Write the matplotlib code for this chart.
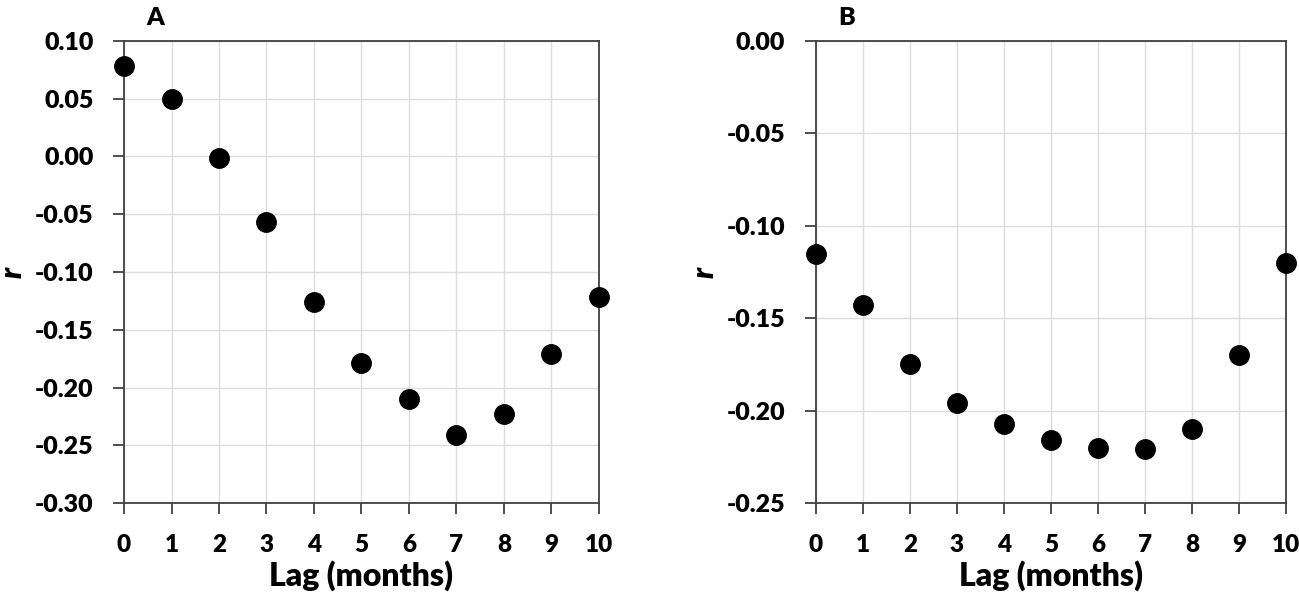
#!/usr/bin/env python3

import matplotlib
matplotlib.use('Agg')
import matplotlib.pyplot as plt
import numpy as np

lag = np.arange(11)

r_a = [0.078, 0.050, -0.001, -0.057, -0.126, -0.179, -0.210, -0.241, -0.223, -0.171, -0.122]
r_b = [-0.115, -0.143, -0.175, -0.196, -0.207, -0.216, -0.220, -0.221, -0.210, -0.170, -0.120]

ylim_a = (-0.30, 0.10)
ylim_b = (-0.25, 0.00)
ystep = 0.05

plt.rcParams['font.family'] = ['Lato', 'DejaVu Sans']
plt.rcParams['font.weight'] = 'heavy'

figure = plt.figure(figsize=(12.99, 5.95), dpi=100)

panels = [
    ('A', r_a, ylim_a, [0.0955, 0.1546, 0.3655, 0.7765]),
    ('B', r_b, ylim_b, [0.628, 0.1546, 0.3623, 0.7765]),
]


def fmt(v, pos):
    v = round(v, 2)
    return '%.2f' % (v + 0.0)


for name, r, ylim, rect in panels:
    ax = figure.add_axes(rect)
    ax.plot(lag, r, 'o', color='black', markersize=14, clip_on=False, zorder=3)

    ax.set_xlim(0, 10)
    ax.set_ylim(*ylim)
    ax.set_xticks(lag)
    ax.set_yticks(np.round(np.arange(ylim[0], ylim[1] + ystep / 2, ystep), 2))
    ax.yaxis.set_major_formatter(plt.FuncFormatter(fmt))

    ax.grid(True, color='#dcdcdc', linewidth=1.0)
    ax.set_axisbelow(True)
    for spine in ax.spines.values():
        spine.set_color('#404040')
        spine.set_linewidth(1.3)

    ax.tick_params(axis='both', direction='out', length=8, width=1.3,
        color='#404040', labelsize=18)
    ax.tick_params(axis='x', pad=14, labelsize=17.5)
    ax.tick_params(axis='y', pad=14)
    for label in ax.get_xticklabels() + ax.get_yticklabels():
        label.set_fontweight('heavy')

    ax.set_xlabel('Lag (months)', fontsize=23, fontweight='heavy', labelpad=3)
    ax.set_ylabel('r', fontsize=22, fontweight='heavy', style='italic', labelpad=6)
    ax.text(0.065, 1.025, name, transform=ax.transAxes, fontsize=18,
        fontweight='heavy', ha='center', va='bottom')

figure.savefig('out.png', dpi=100)
